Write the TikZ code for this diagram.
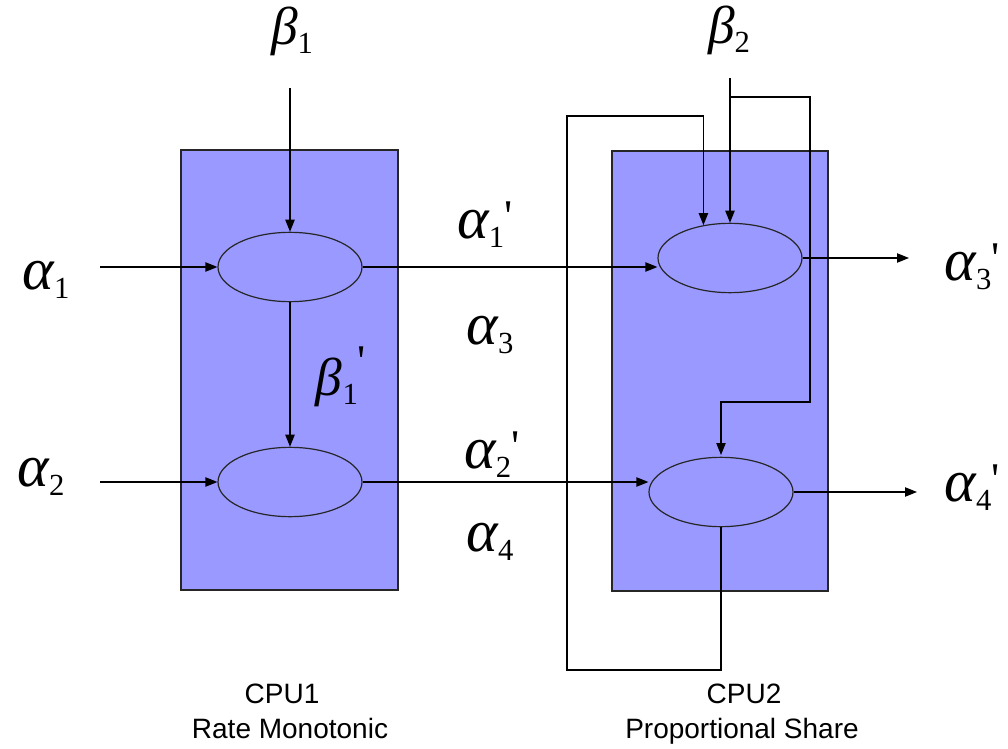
\documentclass[tikz,border=0pt]{standalone}
\usepackage{fontspec}
\setsansfont{Liberation Sans}
\newfontfamily\tms{Liberation Serif}
\usetikzlibrary{arrows.meta,shapes.geometric}
\definecolor{cpu}{HTML}{9999FF}
\newcommand{\gsub}[2]{{\tms\itshape #1}\raisebox{-7pt}{\tms\fontsize{23}{23}\selectfont #2}}
\newcommand{\gsubp}[3]{{\tms\itshape #1}\raisebox{-7pt}{\tms\fontsize{23}{23}\selectfont #2}\hspace{0pt}\raisebox{#3}{\tms\fontsize{34}{34}\selectfont '}}
\begin{document}
\begin{tikzpicture}[x=0.75pt,y=-0.75pt,
  cpubox/.style={rectangle, draw=black!85, fill=cpu, line width=0.9pt, inner sep=0},
  proc/.style={ellipse, draw=black!85, fill=cpu, line width=0.9pt, minimum width=108pt, minimum height=52pt, inner sep=0},
  bsym/.style={inner sep=0, font=\fontsize{40}{40}\selectfont},
  asym/.style={inner sep=0, font=\fontsize{45}{45}\selectfont},
  cpulabel/.style={font=\sffamily\fontsize{21}{21}\selectfont, inner sep=0, anchor=base},
  flow/.style={line width=0.9pt, -{Triangle[length=9pt,width=7pt]}}]
\useasboundingbox (0,0) rectangle (1008,749);
\fill[white] (0,0) rectangle (1008,749);
% CPU boxes
\node[cpubox, minimum width=162.75pt, minimum height=330pt] (cpu1) at (289.5,370) {};
\node[cpubox, minimum width=162pt, minimum height=330pt] (cpu2) at (720,371) {};
% free ends
\coordinate (a1in) at (100,267);
\coordinate (a2in) at (100,482);
\coordinate (b1in) at (290,88);
\coordinate (b2in) at (730,78);
\coordinate (br) at (730,97);
\coordinate (a3out) at (909,258);
\coordinate (a4out) at (917,492);
% branch wire (behind ellipses)
\draw[flow] (br) -| (810,402) -| (721,455);
% processing ellipses
\node[proc] (e1) at (290,267) {};
\node[proc] (e2) at (290,482) {};
\node[proc] (e3) at (730,258) {};
\node[proc] (e4) at (721,492) {};
\draw[flow] (e4.south) |- (567,670) -- (567,116) -| (e3.129);
% connectors
\draw[flow] (a1in) -- (e1.west);
\draw[flow] (a2in) -- (e2.west);
\draw[flow] (b1in) -- (e1.north);
\draw[flow] (e1.south) -- (e2.north);
\draw[flow] (e1.east) -- (e1.east -| e3.west);
\draw[flow] (e2.east) -- (e2.east -| e4.west);
\draw[flow] (b2in) -- (e3.north);
\draw[flow] (e3.east) -- (a3out);
\draw[flow] (e4.east) -- (a4out);
% labels
\node[bsym] (lb1) at (292,31) {\gsub{β}{1}};
\node[bsym] (lb2) at (729,30) {\gsub{β}{2}};
\node[bsym] (lb1p) at (341,377) {\gsubp{β}{1}{14pt}};
\node[asym] (la1) at (46,280) {\gsub{α}{1}};
\node[asym] (la2) at (41,477) {\gsub{α}{2}};
\node[asym] (la1p) at (485,225) {\gsubp{α}{1}{5pt}};
\node[asym] (la3) at (490,335) {\gsub{α}{3}};
\node[asym] (la2p) at (492,455) {\gsubp{α}{2}{5pt}};
\node[asym] (la4) at (490,542) {\gsub{α}{4}};
\node[asym] (la3p) at (972,267) {\gsubp{α}{3}{5pt}};
\node[asym] (la4p) at (972,488) {\gsubp{α}{4}{5pt}};
\node[cpulabel] (c1) at (282,703.5) {CPU1};
\node[cpulabel] (c1b) at (290,738.5) {Rate Monotonic};
\node[cpulabel] (c2) at (744,703.5) {CPU2};
\node[cpulabel] (c2b) at (742,738.5) {Proportional Share};
\end{tikzpicture}
\end{document}
